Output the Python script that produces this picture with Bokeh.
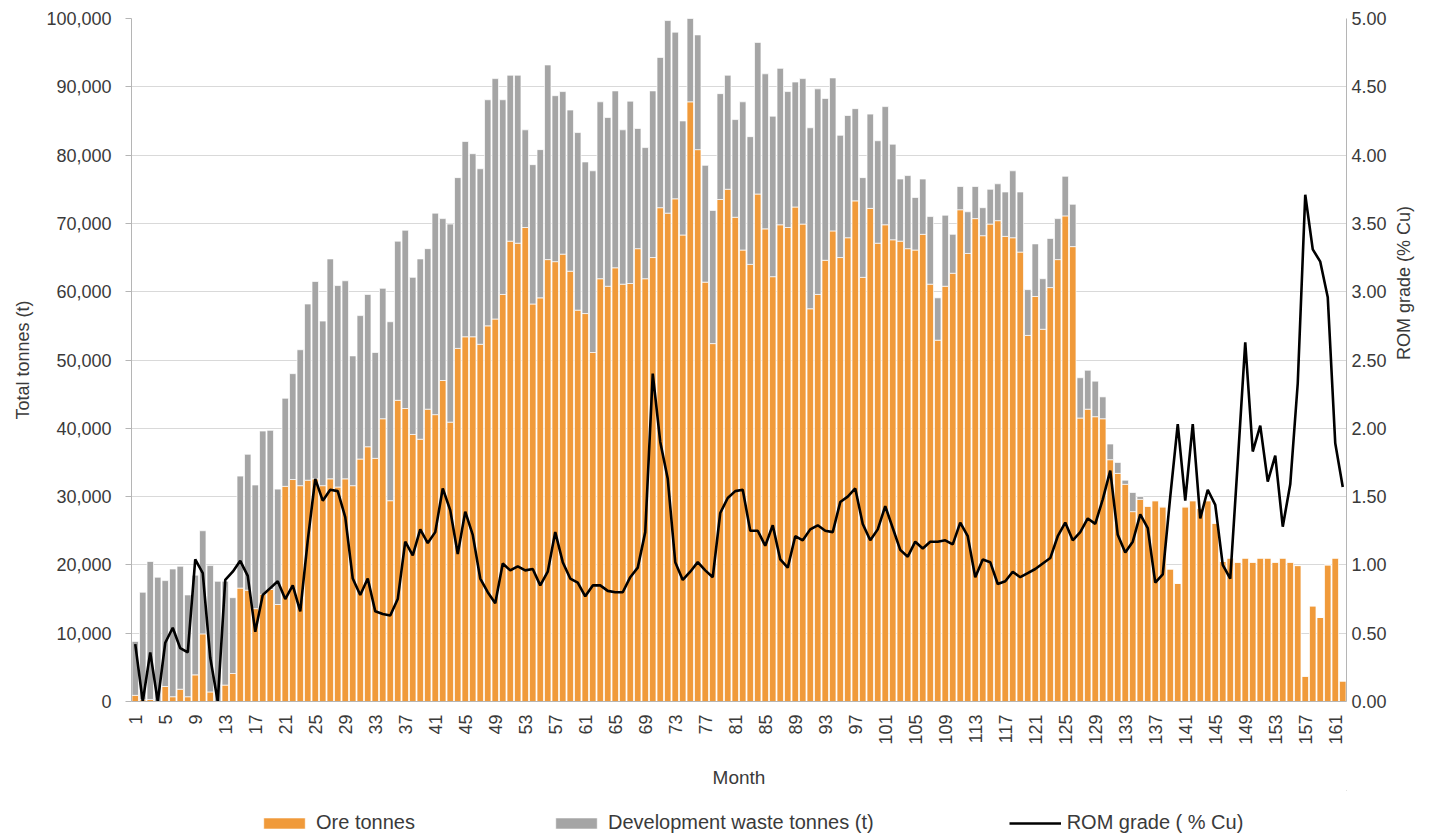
import math
from bokeh.plotting import figure
from bokeh.layouts import column
from bokeh.models import (Range1d, LinearAxis, FixedTicker, NumeralTickFormatter,
                          ColumnDataSource, Legend, LegendItem)
from bokeh.embed import file_html
from bokeh.resources import INLINE

months = list(range(1, 163))

ore_tonnes = [
    900, 250, 300, 0, 2200, 700, 1800, 700, 3900, 9900,
    1400, 0, 2400, 4100, 16600, 16300, 13600, 15700, 16400, 14200,
    31500, 32500, 31600, 32400, 32600, 31600, 32600, 31400, 32600, 31600,
    35500, 37300, 35600, 41400, 29400, 44100, 42900, 39100, 38400, 42800,
    42000, 47000, 40900, 51700, 53400, 53400, 52300, 55000, 56000, 59600,
    67400, 67100, 69400, 58200, 59100, 64700, 64400, 65500, 63000, 57300,
    56800, 51100, 61900, 60800, 63500, 61100, 61200, 66300, 61900, 65000,
    72300, 71500, 73600, 68300, 87800, 80800, 61400, 52400, 73500, 75000,
    70900, 66100, 64000, 74300, 69200, 62200, 69800, 69400, 72400, 69900,
    57500, 59600, 64600, 68900, 65000, 67900, 73300, 62100, 72200, 67100,
    69800, 67600, 67400, 66300, 66100, 68400, 61100, 52900, 60800, 62700,
    72000, 65600, 70700, 68200, 69900, 70400, 68100, 67900, 65800, 53600,
    59300, 54500, 60600, 64700, 71100, 66600, 41500, 42800, 41700, 41400,
    35400, 33400, 31800, 27800, 29600, 28600, 29400, 28500, 19400, 17300,
    28500, 29400, 28300, 29400, 26100, 20500, 21000, 20400, 21000, 20400,
    21000, 21000, 20400, 21000, 20400, 19900, 3700, 14000, 12300, 20000,
    21000, 3000,
]

waste_tonnes = [
    7900, 15750, 20200, 18200, 15500, 18700, 18000, 14900, 14600, 15100,
    18500, 17600, 15200, 11100, 16400, 19900, 18100, 23900, 23300, 16900,
    12900, 15500, 19900, 25800, 28900, 24100, 32200, 29500, 29000, 19000,
    21000, 22300, 15500, 19100, 26200, 23300, 26100, 23000, 26400, 23500,
    29500, 23700, 29000, 25000, 28600, 26800, 25700, 33100, 35200, 28500,
    24300, 24600, 14300, 20400, 21700, 28500, 24300, 23800, 23600, 26000,
    22200, 26600, 25900, 24700, 25900, 22600, 26700, 17600, 19200, 24400,
    22000, 28200, 24400, 16700, 12200, 16800, 17100, 19500, 15500, 16700,
    14300, 21700, 18700, 22200, 22700, 23500, 22900, 19900, 18300, 21300,
    26500, 30100, 23700, 22400, 17900, 17900, 13500, 14600, 13800, 15000,
    17300, 14000, 9100, 10700, 7700, 8100, 9900, 6200, 10400, 5700,
    3400, 6100, 4700, 4100, 5100, 5400, 6500, 9800, 8800, 6700,
    7700, 7400, 7200, 6000, 5800, 6200, 5900, 5700, 5200, 3200,
    2300, 1600, 600, 2800, 400, 0, 0, 0, 0, 0,
    0, 0, 0, 0, 0, 0, 0, 0, 0, 0,
    0, 0, 0, 0, 0, 0, 0, 0, 0, 0,
    0, 0,
]

rom_grade = [
    0.42, 0.00, 0.36, 0.00, 0.43, 0.54, 0.39, 0.36, 1.04, 0.94,
    0.32, 0.00, 0.89, 0.95, 1.03, 0.92, 0.51, 0.78, 0.83, 0.88,
    0.75, 0.85, 0.66, 1.18, 1.63, 1.47, 1.55, 1.54, 1.35, 0.90,
    0.78, 0.90, 0.66, 0.64, 0.63, 0.75, 1.17, 1.07, 1.26, 1.16,
    1.24, 1.56, 1.40, 1.08, 1.39, 1.22, 0.90, 0.80, 0.72, 1.01,
    0.96, 0.99, 0.96, 0.97, 0.85, 0.95, 1.24, 1.02, 0.90, 0.87,
    0.77, 0.85, 0.85, 0.81, 0.80, 0.80, 0.91, 0.98, 1.24, 2.40,
    1.90, 1.63, 1.02, 0.89, 0.95, 1.02, 0.96, 0.91, 1.38, 1.49,
    1.54, 1.55, 1.25, 1.25, 1.14, 1.29, 1.04, 0.98, 1.21, 1.18,
    1.26, 1.29, 1.25, 1.24, 1.46, 1.50, 1.56, 1.30, 1.18, 1.26,
    1.43, 1.27, 1.11, 1.06, 1.17, 1.12, 1.17, 1.17, 1.18, 1.15,
    1.31, 1.21, 0.91, 1.04, 1.02, 0.86, 0.88, 0.95, 0.91, 0.94,
    0.97, 1.01, 1.05, 1.21, 1.31, 1.18, 1.24, 1.34, 1.30, 1.48,
    1.69, 1.22, 1.09, 1.17, 1.37, 1.27, 0.87, 0.93, 1.50, 2.03,
    1.47, 2.03, 1.34, 1.55, 1.44, 1.00, 0.90, 1.75, 2.63, 1.83,
    2.02, 1.61, 1.80, 1.28, 1.59, 2.33, 3.71, 3.31, 3.22, 2.96,
    1.89, 1.57,
]

left_ticks = list(range(0, 100001, 10000))
right_ticks = [0.0, 0.5, 1.0, 1.5, 2.0, 2.5, 3.0, 3.5, 4.0, 4.5, 5.0]
month_ticks = list(range(1, 163, 4))
legend_labels = ["Ore tonnes", "Development waste tonnes (t)", "ROM grade ( % Cu)"]

ORANGE = "#F09A3A"
GREY = "#A5A5A5"
TXT = "#3a3a3a"
FONT = "Liberation Sans"

p = figure(frame_width=1215, frame_height=683, output_backend="svg",
           toolbar_location=None,
           x_range=Range1d(0.5, 162.5), y_range=Range1d(0, 100000),
           min_border_left=131, min_border_right=92, min_border_top=18,
           min_border_bottom=0)
p.extra_y_ranges = {"grade": Range1d(0, 5)}
p.outline_line_color = None
p.background_fill_color = "white"
p.border_fill_color = "white"

src = ColumnDataSource(dict(month=months, ore=ore_tonnes, waste=waste_tonnes))
bars = p.vbar_stack(["ore", "waste"], x="month", width=0.86, source=src,
                    fill_color=[ORANGE, GREY], line_color="white", line_width=0.7)
gsrc = ColumnDataSource(dict(month=months, grade=rom_grade))
line = p.line("month", "grade", source=gsrc, y_range_name="grade",
              line_color="black", line_width=2.6)

# grid
p.xgrid.visible = False
p.ygrid.ticker = FixedTicker(ticks=left_ticks)
p.ygrid.grid_line_color = "#d9d9d9"
p.ygrid.grid_line_width = 1

# left axis
ya = p.yaxis[0]
ya.ticker = FixedTicker(ticks=left_ticks)
ya.formatter = NumeralTickFormatter(format="0,0")
ya.axis_label = "Total tonnes (t)"
ya.major_tick_out = 6
ya.major_tick_in = 0
ya.minor_tick_line_color = None
ya.major_label_standoff = 14
ya.axis_label_standoff = 10

# right axis
ra = LinearAxis(y_range_name="grade", ticker=FixedTicker(ticks=right_ticks),
                formatter=NumeralTickFormatter(format="0.00"),
                axis_label="ROM grade (% Cu)")
p.add_layout(ra, "right")
ra.major_tick_out = 0
ra.major_tick_in = 0
ra.minor_tick_line_color = None
ra.major_label_standoff = 5
ra.axis_label_standoff = 14
try:
    ra.axis_label_orientation = math.pi / 2
except Exception:
    pass

# x axis
xa = p.xaxis[0]
xa.ticker = FixedTicker(ticks=month_ticks)
xa.major_label_orientation = math.pi / 2
xa.axis_label = "Month"
xa.minor_tick_line_color = None
xa.major_label_standoff = 7
xa.axis_label_standoff = 19

for ax in (ya, ra, xa):
    ax.axis_line_color = "#b5b5b5"
    ax.major_label_text_font = FONT
    ax.major_label_text_font_size = "18px"
    ax.major_label_text_color = TXT
    ax.axis_label_text_font = FONT
    ax.axis_label_text_font_size = "18px"
    ax.axis_label_text_font_style = "normal"
    ax.axis_label_text_color = TXT
ya.major_tick_line_color = "#b5b5b5"
ra.major_tick_line_color = None
xa.major_tick_line_color = None
xa.axis_label_text_font_size = "19px"

# legend strip below the chart: key renderers reuse the same sources but
# the strip's ranges keep every mark out of view, so only the legend shows
leg = figure(width=1438, height=48, output_backend="svg", toolbar_location=None,
             x_range=Range1d(-3, -2), y_range=Range1d(-3, -2),
             x_axis_location=None, y_axis_location=None, min_border=0)
leg.outline_line_color = None
leg.grid.visible = False
leg.background_fill_color = "white"
leg.border_fill_color = "white"
k_ore = leg.vbar(x="month", top="ore", width=0.86, source=src,
                 fill_color=ORANGE, line_color="white", line_width=0.7)
k_waste = leg.vbar(x="month", top="waste", width=0.86, source=src,
                   fill_color=GREY, line_color="white", line_width=0.7)
k_grade = leg.line(x="month", y="grade", source=gsrc, line_color="black",
                   line_width=2.6)

legend = Legend(items=[
    LegendItem(label=legend_labels[0], renderers=[k_ore]),
    LegendItem(label=legend_labels[1], renderers=[k_waste]),
    LegendItem(label=legend_labels[2], renderers=[k_grade]),
], orientation="horizontal", location=(127, 4), spacing=135,
    glyph_width=52, glyph_height=14, label_standoff=6,
    label_text_font=FONT, label_text_font_size="20px", label_text_color=TXT,
    border_line_color=None, background_fill_alpha=0, padding=0, margin=0)
leg.add_layout(legend, "center")

layout = column(p, leg, spacing=0)
open("out.html", "w").write(file_html(layout, INLINE))
